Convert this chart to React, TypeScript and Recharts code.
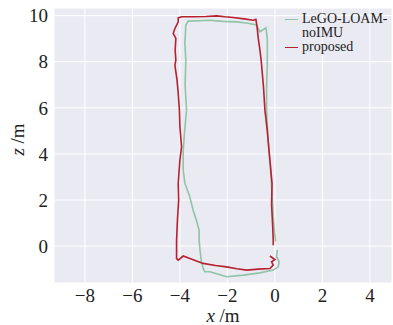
import React from 'react';
import { ScatterChart, Scatter, XAxis, YAxis, CartesianGrid } from 'recharts';

const FONT = 'Liberation Serif, DejaVu Serif, Times New Roman, serif';
const GREEN = '#8fc4a6';
const RED = '#b8202f';

const xTicks = [-8, -6, -4, -2, 0, 2, 4];
const yTicks = [0, 2, 4, 6, 8, 10];
const xDomain: [number, number] = [-9.3, 4.93];
const yDomain: [number, number] = [-1.6, 10.33];
const seriesNames = ['LeGO-LOAM-noIMU', 'proposed'];

// LeGO-LOAM-noIMU trajectory (x, z)
const legoPath: [number, number][] = [
  [0.1, -0.17], [0.07, -0.46], [0.18, -0.68], [0.14, -0.9], [-0.07, -1.04],
  [-0.63, -1.16], [-1.33, -1.26], [-2.03, -1.33], [-2.45, -1.2], [-2.74, -1.11],
  [-2.95, -1.11], [-3.02, -0.97], [-3.09, -0.68], [-3.15, -0.2], [-3.19, 0.26],
  [-3.19, 0.69], [-3.3, 1.1], [-3.44, 1.56], [-3.6, 2.2], [-3.79, 2.72],
  [-3.86, 3.3], [-3.86, 4.16], [-3.8, 5.0], [-3.72, 5.9], [-3.78, 7.0],
  [-3.75, 8.07], [-3.79, 8.8], [-3.75, 9.59], [-3.65, 9.76], [-3.2, 9.78],
  [-2.74, 9.8], [-2.2, 9.75], [-1.61, 9.73], [-1.2, 9.68], [-0.77, 9.59],
  [-0.63, 9.3], [-0.38, 9.47], [-0.32, 9.01], [-0.32, 7.85], [-0.35, 6.9],
  [-0.35, 5.9], [-0.3, 4.8], [-0.21, 3.73], [-0.14, 2.6], [-0.07, 1.3],
  [-0.02, 0.6], [0.03, 0.2],
];

// proposed trajectory (x, z)
const proposedPath: [number, number][] = [
  [-0.07, 0.04], [-0.07, 0.26], [-0.1, 1.0], [-0.14, 1.8], [-0.12, 2.72],
  [-0.21, 3.73], [-0.25, 4.16], [-0.32, 5.0], [-0.42, 5.9], [-0.48, 6.9],
  [-0.56, 7.85], [-0.58, 8.07], [-0.63, 8.5], [-0.7, 9.01], [-0.75, 9.5],
  [-0.8, 9.84], [-0.91, 9.8], [-1.3, 9.86], [-1.76, 9.92], [-2.1, 9.95],
  [-2.45, 9.99], [-2.9, 9.96], [-3.44, 9.95], [-3.93, 9.95], [-4.07, 9.9],
  [-4.07, 9.73], [-4.21, 9.44], [-4.28, 9.23], [-4.17, 9.01], [-4.2, 8.5],
  [-4.17, 8.07], [-4.21, 7.85], [-4.12, 7.2], [-4.07, 6.62], [-4.02, 5.9],
  [-4.0, 5.18], [-3.93, 4.31], [-4.0, 3.73], [-4.07, 2.72], [-4.05, 2.0],
  [-4.1, 1.2], [-4.14, 0.26], [-4.14, -0.54], [-4.07, -0.61], [-3.86, -0.43],
  [-3.58, -0.54], [-3.02, -0.75], [-2.5, -0.84], [-2.04, -0.9], [-1.6, -0.98],
  [-1.19, -1.04], [-0.7, -1.0], [-0.21, -0.97], [-0.07, -0.82], [-0.14, -0.68],
  [0.0, -0.58], [-0.21, -0.43],
];

const toPoints = (p: [number, number][]) => p.map(([x, y]) => ({ x, y }));
const legoData = toPoints(legoPath);
const proposedData = toPoints(proposedPath);

const fmt = (v: number) => (v < 0 ? `\u2212${Math.abs(v)}` : `${v}`);

const YLabel = (props: any) => {
  const vb = props.viewBox || { x: 0, y: 8, width: 54, height: 275 };
  const cx = vb.x + 17;
  const cy = vb.y + vb.height / 2 - 6;
  return (
    <text x={cx} y={cy} transform={`rotate(-90 ${cx} ${cy})`} textAnchor="middle"
      dominantBaseline="central" fontFamily={FONT} fontSize={19} fill="#222">
      <tspan fontStyle="italic">z</tspan> /m
    </text>
  );
};

const XLabel = (props: any) => {
  const vb = props.viewBox || { x: 54, y: 283, width: 338, height: 42 };
  const cx = vb.x + vb.width / 2;
  const cy = vb.y + 39;
  return (
    <text x={cx} y={cy} textAnchor="middle" fontFamily={FONT} fontSize={19} fill="#222">
      <tspan fontStyle="italic">x</tspan> /m
    </text>
  );
};

const noShape = () => <g />;

export default function App() {
  return (
    <div style={{ position: 'absolute', left: 0, top: 0, width: 393, height: 325, fontFamily: FONT }}>
      <ScatterChart width={393} height={325} margin={{ top: 8, right: 1, bottom: 0, left: 0 }}
        style={{ fontFamily: FONT }}>
        <CartesianGrid fill="#eaeaf2" stroke="#ffffff" strokeWidth={1} />
        <XAxis type="number" dataKey="x" domain={xDomain} ticks={xTicks} allowDataOverflow
          axisLine={false} tickLine={false} height={42} tickFormatter={fmt} tickSize={4}
          tick={{ fontFamily: FONT, fontSize: 19, fill: '#222' }} label={<XLabel />} />
        <YAxis type="number" dataKey="y" domain={yDomain} ticks={yTicks} allowDataOverflow
          axisLine={false} tickLine={false} width={54} tickFormatter={fmt} tickSize={4}
          tick={{ fontFamily: FONT, fontSize: 19, fill: '#222' }} label={<YLabel />} />
        <Scatter name={seriesNames[0]} data={legoData} line={{ stroke: GREEN, strokeWidth: 1.6 }}
          lineType="joint" shape={noShape} isAnimationActive={false} />
        <Scatter name={seriesNames[1]} data={proposedData} line={{ stroke: RED, strokeWidth: 1.6 }}
          lineType="joint" shape={noShape} isAnimationActive={false} />
      </ScatterChart>
      <div style={{ position: 'absolute', left: 285, top: 12, fontSize: 14,
        lineHeight: '13.5px', color: '#222' }}>
        <div style={{ display: 'flex', alignItems: 'flex-start' }}>
          <span style={{ display: 'inline-block', width: 13, borderTop: `1.6px solid ${GREEN}`,
            marginTop: 7, marginRight: 4 }} />
          <div>
            <div>LeGO-LOAM-</div>
            <div>noIMU</div>
          </div>
        </div>
        <div style={{ display: 'flex', alignItems: 'flex-start', marginTop: 1 }}>
          <span style={{ display: 'inline-block', width: 13, borderTop: `1.6px solid ${RED}`,
            marginTop: 7, marginRight: 4 }} />
          <div>{seriesNames[1]}</div>
        </div>
      </div>
    </div>
  );
}
